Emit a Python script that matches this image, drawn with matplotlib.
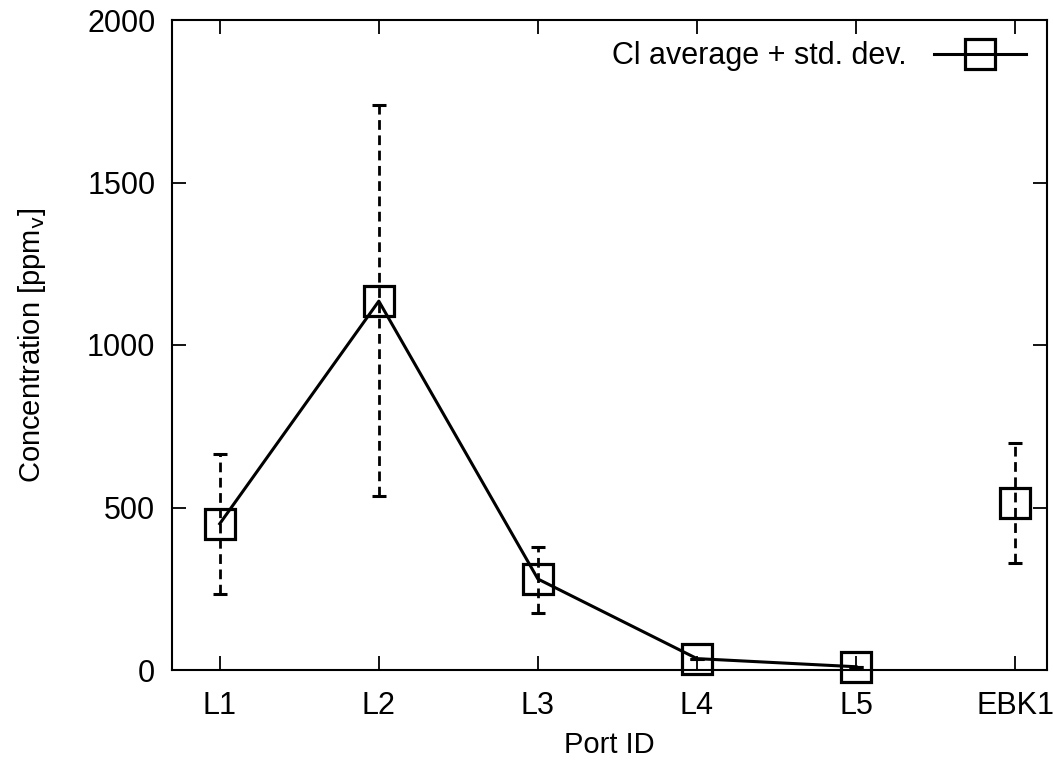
import numpy as np
import matplotlib
matplotlib.use('Agg')
import matplotlib.pyplot as plt

plt.rcParams['font.family'] = ['Liberation Sans', 'DejaVu Sans']

# values
ports = ['L1', 'L2', 'L3', 'L4', 'L5', 'EBK1']
mean_cl = [450, 1135, 280, 35, 10, 515]
err_low = [235, 535, 175, 35, 10, 330]
err_high = [665, 1740, 380, 35, 10, 700]
n_line = 5  # L1..L5 connected, EBK1 separate

x = np.arange(1, len(ports) + 1)
mean_cl = np.array(mean_cl)
yerr = [mean_cl - np.array(err_low), np.array(err_high) - mean_cl]

fig = plt.figure(figsize=(10.53, 7.62), dpi=100)
ax = fig.add_axes([172/1053, 92/762, (1047-172)/1053, (670-20)/762])

eb = ax.errorbar(x, mean_cl, yerr=yerr, fmt='none', ecolor='black',
                 elinewidth=2, capsize=5, capthick=2.2)
eb[2][0].set_linestyle((0, (3.5, 2)))

ax.plot(x[:n_line], mean_cl[:n_line], color='black', lw=2.2, clip_on=False)
ax.plot(x, mean_cl, ls='none', marker='s', ms=21, mfc='none', mec='black',
        mew=2.3, clip_on=False, zorder=5)
ax.plot([], [], color='black', lw=2.2, marker='s', ms=21, mfc='none', mec='black',
        mew=2.3, label='Cl average + std. dev.')

ax.set_xlim(0.7, 6.2)
ax.set_ylim(0, 2000)
ax.set_xticks(x)
ax.set_xticklabels(ports)
ax.set_yticks([0, 500, 1000, 1500, 2000])
ax.tick_params(direction='in', length=10, width=1.3, top=True, right=True,
               labelsize=22)
ax.tick_params(axis='y', pad=12)
ax.tick_params(axis='x', pad=15)
for s in ax.spines.values():
    s.set_linewidth(1.5)

ax.set_xlabel('Port ID', fontsize=21, labelpad=7)
ax.set_ylabel('Concentration [ppm$_\\mathrm{v}$]', fontsize=21, labelpad=28)

leg = ax.legend(loc='upper right', frameon=False, fontsize=22, markerfirst=False,
                handlelength=3.0, borderaxespad=0.3, handletextpad=0.9)

fig.savefig('out.png', dpi=100)
